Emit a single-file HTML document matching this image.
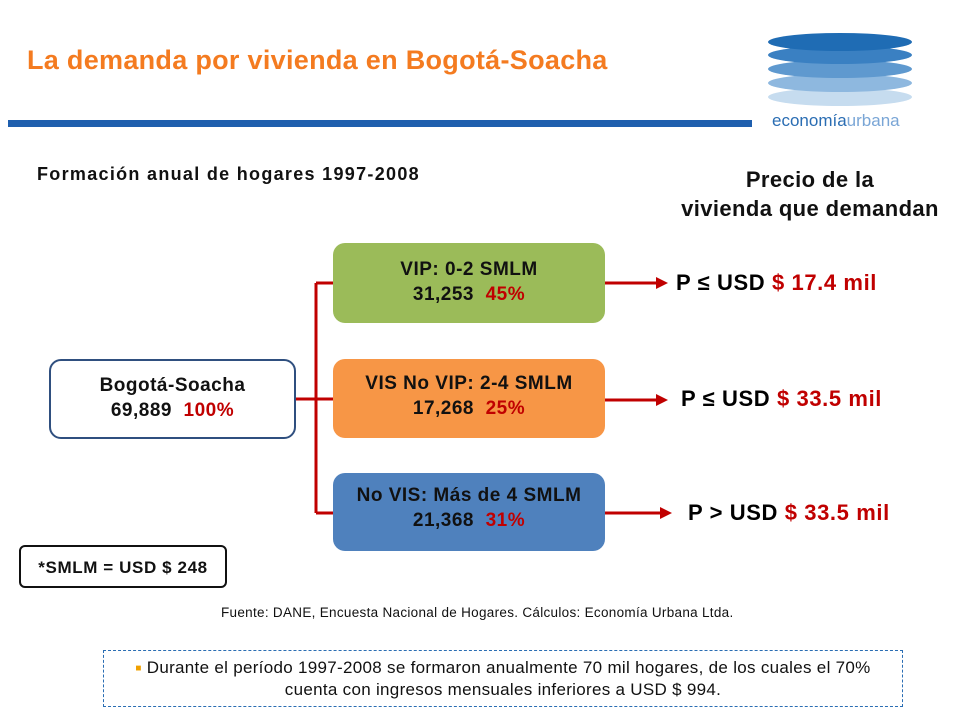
<!DOCTYPE html>
<html><head><meta charset="utf-8"><style>
body{margin:0;width:960px;height:720px;background:#fff;position:relative;overflow:hidden;font-family:"Liberation Sans",sans-serif}
.a{position:absolute;white-space:nowrap}
.box{position:absolute;border-radius:12px;text-align:center;font-weight:bold;font-size:19px;letter-spacing:0.5px;line-height:25px;color:#111;box-sizing:border-box;white-space:nowrap}
.r{color:#c00000}
.p{font-size:22px;font-weight:bold;letter-spacing:0.6px}
</style></head><body>
<div class="a" style="left:27px;top:45px;font-size:27px;letter-spacing:0.3px;font-weight:bold;color:#f47b20">La demanda por vivienda en Bogotá-Soacha</div>
<div class="a" style="left:8px;top:120px;width:744px;height:7px;background:#1f5fae"></div>
<svg class="a" style="left:750px;top:20px" width="200" height="115">
<ellipse cx="90" cy="77" rx="72" ry="9" fill="#c6dcef"/>
<ellipse cx="90" cy="63" rx="72" ry="9" fill="#8eb8df"/>
<ellipse cx="90" cy="49" rx="72" ry="9" fill="#5f99cf"/>
<ellipse cx="90" cy="35" rx="72" ry="9" fill="#3a80c2"/>
<ellipse cx="90" cy="22" rx="72" ry="9" fill="#1f6cb4"/>
<text x="22" y="106" font-family="Liberation Sans" font-size="17" fill="#2a6db3">economía<tspan fill="#7aa6d6">urbana</tspan></text>
</svg>
<div class="a" style="left:37px;top:164px;font-size:18px;letter-spacing:1.3px;font-weight:bold;color:#111">Formación anual de hogares 1997-2008</div>
<div class="a" style="left:660px;top:165px;width:300px;text-align:center;font-size:22px;letter-spacing:0.4px;font-weight:bold;line-height:29px;color:#111">Precio de la<br>vivienda que demandan</div>
<svg class="a" style="left:0;top:0" width="960" height="720">
<g stroke="#c00000" stroke-width="3" fill="none">
<path d="M296 399H316M316 283V513M316 283H333M316 399H333M316 513H333"/>
<path d="M605 283H660M605 400H660M605 513H664"/>
</g>
<g fill="#c00000"><path d="M668 283L656 277V289Z"/><path d="M668 400L656 394V406Z"/><path d="M672 513L660 507V519Z"/></g>
</svg>
<div class="box" style="left:49px;top:359px;width:247px;height:80px;border:2px solid #2f4f7f;background:#fff;padding-top:12px">Bogotá-Soacha<br>69,889 &nbsp;<span class="r">100%</span></div>
<div class="box" style="left:333px;top:243px;width:272px;height:80px;background:#9bbb59;padding-top:14px">VIP: 0-2 SMLM<br>31,253 &nbsp;<span class="r">45%</span></div>
<div class="box" style="left:333px;top:359px;width:272px;height:79px;background:#f79646;padding-top:12px">VIS No VIP: 2-4 SMLM<br>17,268 &nbsp;<span class="r">25%</span></div>
<div class="box" style="left:333px;top:473px;width:272px;height:78px;background:#4f81bd;padding-top:10px">No VIS: Más de 4 SMLM<br>21,368 &nbsp;<span class="r">31%</span></div>
<div class="a p" style="left:676px;top:270px">P ≤ USD <span class="r">$ 17.4 mil</span></div>
<div class="a p" style="left:681px;top:386px">P ≤ USD <span class="r">$ 33.5 mil</span></div>
<div class="a p" style="left:688px;top:500px">P &gt; USD <span class="r">$ 33.5 mil</span></div>
<div class="box" style="left:19px;top:545px;width:208px;height:43px;border:2px solid #111;border-radius:6px;font-size:17px;letter-spacing:0.6px;padding-top:8px">*SMLM = USD $ 248</div>
<div class="a" style="left:221px;top:605px;font-size:13.5px;letter-spacing:0.3px;color:#111">Fuente: DANE, Encuesta Nacional de Hogares. Cálculos: Economía Urbana Ltda.</div>
<div class="a" style="left:103px;top:650px;width:800px;height:57px;border:1.5px dashed #2a6db3;box-sizing:border-box;text-align:center;font-size:17px;letter-spacing:0.3px;line-height:21px;padding-top:6px;color:#111"><span style="color:#f0a000;font-size:10px;vertical-align:2px">■</span> Durante el período 1997-2008 se formaron anualmente 70 mil hogares, de los cuales el 70%<br>cuenta con ingresos mensuales inferiores a USD $ 994.</div>
</body></html>
